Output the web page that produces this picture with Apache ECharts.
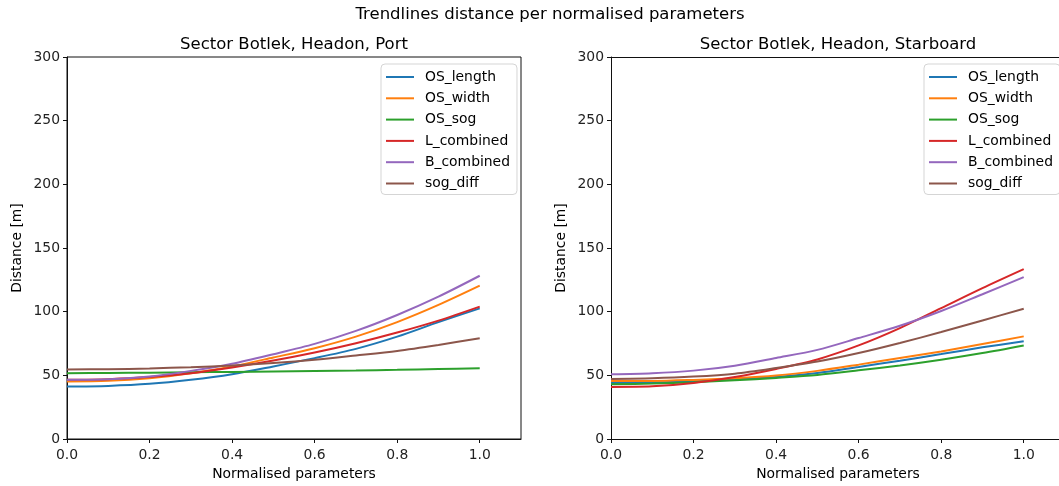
<!DOCTYPE html>
<html>
<head>
<meta charset="utf-8">
<script src="https://cdn.jsdelivr.net/npm/echarts@6/dist/echarts.min.js"></script>
<style>
    html, body { margin: 0; padding: 0; background: #fff; overflow: hidden; }
    #main { width: 1059px; height: 486px; }
</style>
</head>
<body>
<div id="main"></div>
<script>
// x positions of the trendline samples
var xs = [0.0, 0.1, 0.2, 0.3, 0.4, 0.5, 0.6, 0.7, 0.8, 0.9, 1.0];
var seriesNames = ['OS_length', 'OS_width', 'OS_sog', 'L_combined', 'B_combined', 'sog_diff'];
var xTicks = [0.0, 0.2, 0.4, 0.6, 0.8, 1.0];

// Port side
var portLength   = [41.2, 41.7, 43.3, 46.5, 50.9, 57.0, 63.5, 70.8, 80.4, 91.8, 102.6];
var portWidth    = [45.2, 45.7, 47.8, 51.7, 57.0, 64.0, 71.3, 80.4, 91.8, 105.3, 120.4];
var portSog      = [51.7, 51.8, 52.1, 52.4, 52.7, 53.0, 53.4, 53.8, 54.3, 54.9, 55.5];
var portL        = [46.5, 47.0, 48.6, 51.7, 56.2, 61.6, 67.9, 75.2, 83.6, 93.0, 104.0];
var portB        = [46.5, 47.0, 49.1, 53.5, 59.1, 66.6, 74.7, 84.9, 97.4, 111.8, 128.2];
var portSogDiff  = [54.6, 54.8, 55.4, 56.4, 57.7, 59.6, 62.2, 65.6, 69.2, 73.9, 79.1];

// Starboard side
var stbLength    = [44.0, 44.3, 45.3, 46.9, 48.7, 51.8, 56.6, 61.5, 66.7, 72.0, 76.7];
var stbWidth     = [45.6, 45.6, 46.4, 47.7, 49.8, 53.5, 58.4, 63.6, 68.8, 74.6, 80.6];
var stbSog       = [43.0, 43.5, 44.6, 46.1, 48.0, 50.3, 53.9, 57.8, 62.3, 67.5, 73.5];
var stbL         = [40.9, 41.4, 44.0, 48.7, 55.0, 62.5, 73.5, 87.1, 102.8, 118.5, 133.4];
var stbB         = [50.8, 51.6, 53.7, 57.6, 63.6, 70.0, 79.3, 88.9, 100.5, 113.7, 127.1];
var stbSogDiff   = [47.2, 47.7, 49.0, 51.3, 55.7, 60.8, 67.5, 75.4, 84.0, 93.1, 102.3];

var colors = ['#1f77b4', '#ff7f0e', '#2ca02c', '#d62728', '#9467bd', '#8c564b'];
var font = 'DejaVu Sans';

function pairs(ys) {
    return xs.map(function (x, i) { return [x, ys[i]]; });
}

function makeSeries(list, idx) {
    return list.map(function (ys, i) {
        return {
            name: seriesNames[i],
            type: 'line',
            xAxisIndex: idx,
            yAxisIndex: idx,
            data: pairs(ys),
            smooth: 0.3,
            showSymbol: false,
            symbol: 'none',
            lineStyle: { width: 2, color: colors[i] },
            itemStyle: { color: colors[i] },
            silent: true
        };
    });
}

function xAxis(idx) {
    return {
        type: 'value', gridIndex: idx, min: 0, max: 1.1,
        name: 'Normalised parameters', nameLocation: 'middle', nameGap: 26,
        nameTextStyle: { fontFamily: font, fontSize: 13.9, color: '#000' },
        axisLine: { show: true, onZero: false, lineStyle: { color: '#111', width: 1 } },
        axisTick: { show: true, length: 4, customValues: xTicks, lineStyle: { color: '#111' } },
        axisLabel: { margin: 9, fontFamily: font, fontSize: 13.9, color: '#222',
                     customValues: xTicks, formatter: function (v) { return v.toFixed(1); } },
        splitLine: { show: false }
    };
}

// top spine only (right subplot runs past the page edge, so no right spine)
function topSpine(idx) {
    return {
        type: 'value', gridIndex: idx, min: 0, max: 1.1, position: 'top',
        axisLine: { show: true, onZero: false, lineStyle: { color: '#111', width: 1 } },
        axisTick: { show: false }, axisLabel: { show: false }, splitLine: { show: false }
    };
}

function yAxis(idx) {
    return {
        type: 'value', gridIndex: idx, min: 0, max: 300, interval: 50,
        name: 'Distance [m]', nameLocation: 'middle', nameGap: 43,
        nameTextStyle: { fontFamily: font, fontSize: 13.9, color: '#000' },
        axisLine: { show: true, lineStyle: { color: '#111', width: 1 } },
        axisTick: { show: true, length: 4, lineStyle: { color: '#111' } },
        axisLabel: { margin: 7, fontFamily: font, fontSize: 13.9, color: '#222' },
        splitLine: { show: false }
    };
}

function legend(left) {
    return {
        left: left, top: 64, orient: 'vertical',
        data: seriesNames, icon: 'rect', itemWidth: 28, itemHeight: 2, itemGap: 7.3,
        padding: [6, 7, 4, 5],
        backgroundColor: 'rgba(255,255,255,0.8)', borderColor: '#d5d5d5', borderWidth: 1, borderRadius: 4,
        textStyle: { fontFamily: font, fontSize: 13.9, color: '#000', padding: [0, 0, 0, 6] },
        selectedMode: false
    };
}

var chart = echarts.init(document.getElementById('main'), null, { renderer: 'canvas' });
chart.setOption({
    backgroundColor: '#fff',
    animation: false,
    title: [
        { text: 'Trendlines distance per normalised parameters', left: 545, top: 1, textAlign: 'center',
          textStyle: { fontFamily: font, fontSize: 16.5, fontWeight: 'normal', color: '#000' } },
        { text: 'Sector Botlek, Headon, Port', left: 289, top: 31, textAlign: 'center',
          textStyle: { fontFamily: font, fontSize: 16.5, fontWeight: 'normal', color: '#000' } },
        { text: 'Sector Botlek, Headon, Starboard', left: 833, top: 31, textAlign: 'center',
          textStyle: { fontFamily: font, fontSize: 16.5, fontWeight: 'normal', color: '#000' } }
    ],
    grid: [
        { left: 67, top: 57, width: 454, height: 382, show: true, borderColor: '#111', borderWidth: 1,
          backgroundColor: 'transparent', outerBoundsMode: 'none' },
        { left: 611, top: 57, width: 454, height: 382, show: false, outerBoundsMode: 'none' }
    ],
    legend: [legend(381), legend(924)],
    xAxis: [xAxis(0), xAxis(1), topSpine(1)],
    yAxis: [yAxis(0), yAxis(1)],
    series: makeSeries([portLength, portWidth, portSog, portL, portB, portSogDiff], 0)
        .concat(makeSeries([stbLength, stbWidth, stbSog, stbL, stbB, stbSogDiff], 1))
});
</script>
</body>
</html>
